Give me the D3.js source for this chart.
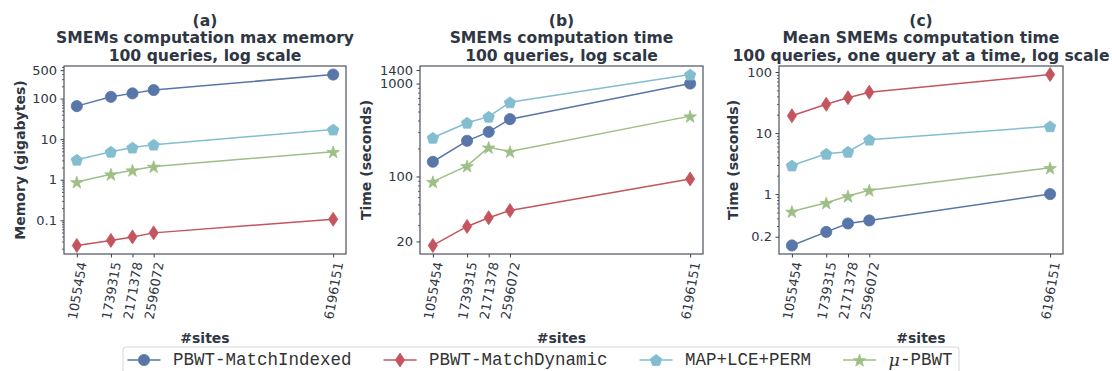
<!DOCTYPE html>
<html>
<head>
<meta charset="utf-8">
<script src="https://cdn.jsdelivr.net/npm/d3@7"></script>
<style>
  html, body { margin: 0; padding: 0; background: #ffffff; }
  svg { display: block; }
</style>
</head>
<body>
<svg id="chart" width="1112" height="371"></svg>
<script>
// Number of sites in each panel (shared x axis values)
const sites = [1055454, 1739315, 2171378, 2596072, 6196151];

// (a) max memory, gigabytes
const memIndexed = [65, 110, 134, 162, 390];
const memDynamic = [0.024, 0.032, 0.039, 0.049, 0.106];
const memMapLce  = [3.1, 4.9, 6.2, 7.3, 17.2];
const memMuPbwt  = [0.88, 1.37, 1.72, 2.12, 4.9];

// (b) total time, seconds
const timeIndexed = [144, 242, 302, 414, 1000];
const timeDynamic = [18.1, 29, 36, 43, 94];
const timeMapLce  = [261, 379, 440, 628, 1250];
const timeMuPbwt  = [88, 130, 206, 186, 446];

// (c) mean time per query, seconds
const meanIndexed = [0.144, 0.24, 0.33, 0.37, 1.0];
const meanDynamic = [19.2, 29.6, 38, 46.7, 91];
const meanMapLce  = [2.94, 4.58, 4.94, 7.8, 12.9];
const meanMuPbwt  = [0.52, 0.72, 0.93, 1.16, 2.69];

// Tick values / labels of the three y axes
const ticksA = [0.1, 1, 10, 100, 500];
const ticksB = [20, 100, 1000, 1400];
const ticksC = [0.2, 1, 10, 100];

const seriesNames = ["PBWT-MatchIndexed", "PBWT-MatchDynamic", "MAP+LCE+PERM", "\u03bc-PBWT"];
const colors = ["#5876a8", "#c4545e", "#82bdd0", "#9dbf86"];
const markerKinds = ["circle", "diamond", "pentagon", "star"];

const panels = [
  { tag: "(a)", line1: "SMEMs computation max memory", line2: "100 queries, log scale",
    ylabel: "Memory (gigabytes)", data: [memIndexed, memDynamic, memMapLce, memMuPbwt],
    ticks: ticksA, left: 64, right: 346, ylabelX: 20 },
  { tag: "(b)", line1: "SMEMs computation time", line2: "100 queries, log scale",
    ylabel: "Time (seconds)", data: [timeIndexed, timeDynamic, timeMapLce, timeMuPbwt],
    ticks: ticksB, left: 420, right: 703, ylabelX: 366 },
  { tag: "(c)", line1: "Mean SMEMs computation time", line2: "100 queries, one query at a time, log scale",
    ylabel: "Time (seconds)", data: [meanIndexed, meanDynamic, meanMapLce, meanMuPbwt],
    ticks: ticksC, left: 779, right: 1063, ylabelX: 733 }
];

const plotTop = 66, plotBottom = 254;
const textColor = "#2f3644";
const spineColor = "#3c424e";
const svg = d3.select("#chart");

function markerPath(kind) {
  const p = d3.path();
  if (kind === "circle") {
    p.arc(0, 0, 5.6, 0, 2 * Math.PI);
  } else if (kind === "diamond") {
    p.moveTo(0, -7); p.lineTo(4.6, 0); p.lineTo(0, 7); p.lineTo(-4.6, 0); p.closePath();
  } else if (kind === "pentagon") {
    for (let i = 0; i < 5; i++) {
      const a = -Math.PI / 2 + i * 2 * Math.PI / 5;
      const px = 6 * Math.cos(a), py = 6 * Math.sin(a) + 0.6;
      if (i === 0) p.moveTo(px, py); else p.lineTo(px, py);
    }
    p.closePath();
  } else {
    for (let i = 0; i < 10; i++) {
      const r = i % 2 === 0 ? 6.6 : 2.6;
      const a = -Math.PI / 2 + i * Math.PI / 5;
      const px = r * Math.cos(a), py = r * Math.sin(a) + 0.8;
      if (i === 0) p.moveTo(px, py); else p.lineTo(px, py);
    }
    p.closePath();
  }
  return p.toString();
}

function paddedLinear(vals) {
  const lo = d3.min(vals), hi = d3.max(vals), m = (hi - lo) * 0.05;
  return [lo - m, hi + m];
}
function paddedLog(vals) {
  const lo = Math.log10(d3.min(vals)), hi = Math.log10(d3.max(vals)), m = (hi - lo) * 0.05;
  return [Math.pow(10, lo - m), Math.pow(10, hi + m)];
}
function minorTicks(domain, majors) {
  const out = [];
  for (let e = Math.floor(Math.log10(domain[0])); e <= Math.ceil(Math.log10(domain[1])); e++) {
    for (let k = 1; k <= 9; k++) {
      const v = k * Math.pow(10, e);
      if (v >= domain[0] && v <= domain[1] && !majors.some(t => Math.abs(t - v) / v < 1e-9)) out.push(v);
    }
  }
  return out;
}
function fmt(v) { return String(+v.toPrecision(6)); }

const sin80 = Math.sin(80 * Math.PI / 180), cos80 = Math.cos(80 * Math.PI / 180);

panels.forEach(pn => {
  const x = d3.scaleLinear().domain(paddedLinear(sites)).range([pn.left, pn.right]);
  const yDomain = paddedLog(pn.data.flat());
  const y = d3.scaleLog().domain(yDomain).range([plotBottom, plotTop]);
  const cx = (pn.left + pn.right) / 2;
  const g = svg.append("g");

  // title (three centred lines)
  const title = g.append("text").attr("text-anchor", "middle")
    .attr("font-family", "DejaVu Sans").attr("font-weight", "bold").attr("font-size", 15.6)
    .attr("fill", textColor);
  [pn.tag, pn.line1, pn.line2].forEach((t, i) => {
    title.append("tspan").attr("x", cx).attr("y", 25.5 + i * 17.5).text(t);
  });

  // minor y ticks
  g.append("g").attr("transform", `translate(${pn.left},0)`)
    .call(d3.axisLeft(y).tickValues(minorTicks(yDomain, pn.ticks)).tickSize(2).tickFormat(""))
    .call(a => a.select(".domain").remove())
    .call(a => a.selectAll("line").attr("stroke", spineColor).attr("stroke-width", 0.8));

  // major y ticks
  g.append("g").attr("transform", `translate(${pn.left},0)`)
    .call(d3.axisLeft(y).tickValues(pn.ticks).tickSize(3.5).tickPadding(3.5).tickFormat(fmt))
    .call(a => a.select(".domain").remove())
    .call(a => a.selectAll("line").attr("stroke", spineColor).attr("stroke-width", 1))
    .call(a => a.selectAll("text").attr("font-family", "DejaVu Sans").attr("font-size", 13)
      .attr("fill", textColor));

  // x ticks with slanted labels
  const xa = g.append("g").attr("transform", `translate(0,${plotBottom})`)
    .call(d3.axisBottom(x).tickValues(sites).tickSize(3.5).tickFormat(d3.format("d")))
    .call(a => a.select(".domain").remove())
    .call(a => a.selectAll("line").attr("stroke", spineColor).attr("stroke-width", 1));
  xa.selectAll("text")
    .attr("font-family", "DejaVu Sans").attr("font-size", 13).attr("fill", textColor)
    .attr("y", 0).attr("dy", null)
    .attr("text-anchor", "middle").attr("dominant-baseline", "central")
    .each(function () {
      const L = this.getComputedTextLength();
      const ext = L * sin80 + 13 * cos80;
      d3.select(this).attr("transform", `translate(0,${7 + ext / 2}) rotate(-80)`);
    });

  // axis labels
  g.append("text").attr("x", cx).attr("y", 342.5).attr("text-anchor", "middle")
    .attr("font-family", "DejaVu Sans").attr("font-weight", "bold").attr("font-size", 14)
    .attr("fill", textColor).text("#sites");
  g.append("text").attr("transform", `translate(${pn.ylabelX},${(plotTop + plotBottom) / 2}) rotate(-90)`)
    .attr("text-anchor", "middle").attr("dominant-baseline", "central")
    .attr("font-family", "DejaVu Sans").attr("font-weight", "bold").attr("font-size", 14)
    .attr("fill", textColor).text(pn.ylabel);

  // series lines and markers
  const line = d3.line().x((d, i) => x(sites[i])).y(d => y(d));
  pn.data.forEach((vals, s) => {
    g.append("path").datum(vals).attr("d", line)
      .attr("fill", "none").attr("stroke", colors[s]).attr("stroke-width", 1.5);
    g.selectAll(null).data(vals).enter().append("path")
      .attr("d", markerPath(markerKinds[s]))
      .attr("transform", (d, i) => `translate(${x(sites[i])},${y(d)})`)
      .attr("fill", colors[s]).attr("stroke", colors[s]).attr("stroke-width", 0.8);
  });

  // frame
  g.append("rect").attr("x", pn.left).attr("y", plotTop)
    .attr("width", pn.right - pn.left).attr("height", plotBottom - plotTop)
    .attr("fill", "none").attr("stroke", spineColor).attr("stroke-width", 1.1);
});

// legend
const lg = svg.append("g");
const lgBox = lg.append("rect").attr("x", 123).attr("y", 347).attr("height", 40).attr("rx", 3)
  .attr("fill", "#ffffff").attr("fill-opacity", 0.8).attr("stroke", "#d6d6d6").attr("stroke-width", 1);
let lx = 127.5;
const ly = 360;
seriesNames.forEach((name, s) => {
  lg.append("line").attr("x1", lx).attr("x2", lx + 33).attr("y1", ly).attr("y2", ly)
    .attr("stroke", colors[s]).attr("stroke-width", 1.5);
  lg.append("path").attr("d", markerPath(markerKinds[s]))
    .attr("transform", `translate(${lx + 16.5},${ly})`)
    .attr("fill", colors[s]).attr("stroke", colors[s]).attr("stroke-width", 0.8);
  const t = lg.append("text").attr("x", lx + 45.5).attr("y", ly).attr("dominant-baseline", "central")
    .attr("font-family", "Liberation Mono").attr("font-size", 17.5).attr("fill", "#333333");
  if (name.startsWith("\u03bc")) {
    t.append("tspan").attr("font-family", "DejaVu Serif").attr("font-style", "italic").text("\u03bc");
    t.append("tspan").text(name.slice(1));
  } else {
    t.text(name);
  }
  const w = t.node().getComputedTextLength();
  lx = lx + 45.5 + w + (s === seriesNames.length - 1 ? 6.5 : 32);
});
lgBox.attr("width", lx - 123);
</script>
</body>
</html>
